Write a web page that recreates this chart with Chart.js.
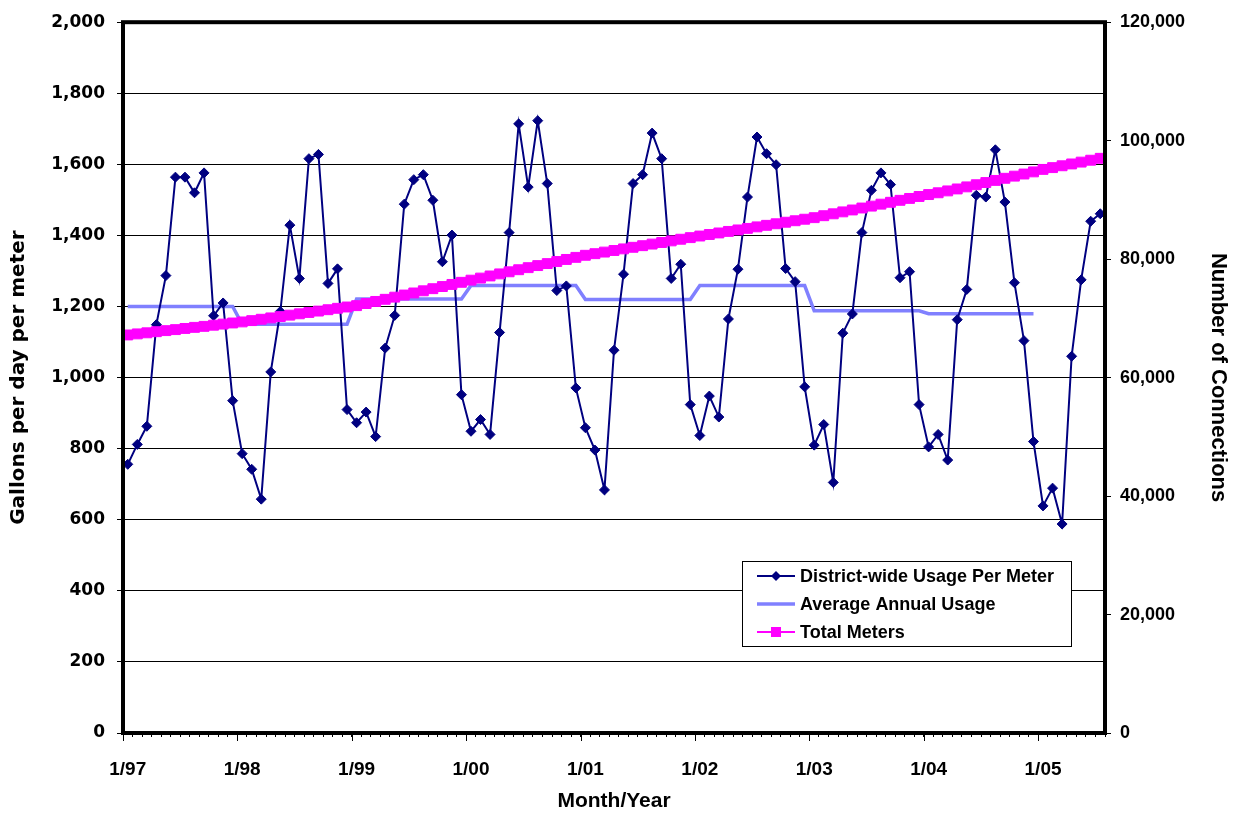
<!DOCTYPE html>
<html>
<head>
<meta charset="utf-8">
<title>District-wide Water Usage Per Meter</title>
<script src="https://cdn.jsdelivr.net/npm/chart.js@4.4.1/dist/chart.umd.min.js"></script>
<style>
  html, body { margin: 0; padding: 0; background: #ffffff; }
  #wrap { position: relative; width: 1233px; height: 815px; }
</style>
</head>
<body>
<div id="wrap"><canvas id="chart" width="1233" height="815"></canvas></div>
<script>
// Monthly usage, gallons per day per meter (Jan 1997 – Jul 2005)
const usage1997 = [756, 812, 863, 1149, 1287, 1564, 1564, 1520, 1576, 1174, 1210, 935];
const usage1998 = [786, 742, 658, 1016, 1186, 1429, 1279, 1616, 1628, 1265, 1306, 910];
const usage1999 = [873, 903, 834, 1083, 1175, 1488, 1557, 1571, 1499, 1326, 1401, 952];
const usage2000 = [849, 882, 840, 1127, 1408, 1714, 1536, 1723, 1546, 1245, 1258, 971];
const usage2001 = [859, 796, 684, 1077, 1291, 1546, 1571, 1688, 1616, 1279, 1319, 924];
const usage2002 = [837, 948, 889, 1165, 1305, 1508, 1677, 1630, 1599, 1307, 1270, 974];
const usage2003 = [810, 868, 705, 1125, 1179, 1408, 1527, 1576, 1543, 1281, 1298, 924];
const usage2004 = [805, 840, 768, 1163, 1248, 1513, 1508, 1641, 1494, 1267, 1104, 820];
const usage2005 = [639, 689, 588, 1060, 1275, 1440, 1461];

// Average annual usage for each full year 1997–2004
const annualAverage = [1200, 1150, 1221, 1259, 1220, 1259, 1188, 1180];

// Total meters in service (number of connections), monthly
const meters1997 = [67200, 67380, 67560, 67750, 67930, 68100, 68300, 68480, 68650, 68850, 69030, 69220];
const meters1998 = [69400, 69620, 69850, 70080, 70300, 70540, 70770, 71000, 71230, 71460, 71700, 71920];
const meters1999 = [72150, 72500, 72860, 73220, 73580, 73940, 74290, 74650, 75010, 75370, 75730, 76090];
const meters2000 = [76450, 76800, 77160, 77510, 77860, 78210, 78560, 78910, 79250, 79600, 79950, 80300];
const meters2001 = [80650, 80920, 81190, 81460, 81730, 82000, 82270, 82540, 82810, 83080, 83360, 83630];
const meters2002 = [83900, 84160, 84420, 84680, 84930, 85190, 85450, 85710, 85970, 86230, 86480, 86740];
const meters2003 = [87000, 87330, 87650, 87980, 88300, 88630, 88950, 89280, 89600, 89930, 90250, 90580];
const meters2004 = [90900, 91200, 91520, 91850, 92200, 92560, 92930, 93290, 93650, 94010, 94370, 94730];
const meters2005 = [95150, 95450, 95760, 96070, 96380, 96700, 97020];

const firstYear = 1997;

const usagePerMeter = [].concat(usage1997, usage1998, usage1999, usage2000, usage2001,
                                usage2002, usage2003, usage2004, usage2005);
const totalMeters = [].concat(meters1997, meters1998, meters1999, meters2000, meters2001,
                              meters2002, meters2003, meters2004, meters2005);

// Category labels "m/yy"
const months = usagePerMeter.map((_, i) => {
  const m = (i % 12) + 1;
  const y = (firstYear + Math.floor(i / 12)) % 100;
  return m + '/' + String(y).padStart(2, '0');
});

// The annual average is held flat over each year's months
const averageSeries = usagePerMeter.map((_, i) => {
  const yr = Math.floor(i / 12);
  return yr < annualAverage.length ? annualAverage[yr] : null;
});

const FONT = "'Liberation Sans', Arial, Helvetica, sans-serif";
const WIDE = "'DejaVu Sans', 'Liberation Sans', sans-serif";
const fmt = v => Number(v).toLocaleString('en-US');

// Black frame round the plot area, year tick marks and the boxed legend
const framePlugin = {
  id: 'frame',
  afterDatasetsDraw(chart) {
    const { ctx, chartArea: a } = chart;
    ctx.save();
    ctx.strokeStyle = '#000';
    ctx.lineWidth = 4;
    ctx.strokeRect(a.left, a.top, a.right - a.left, a.bottom - a.top);
    ctx.restore();
  },
  afterDraw(chart) {
    const { ctx, chartArea: a } = chart;
    const xs = chart.scales.x;
    const step = xs.getPixelForValue(1) - xs.getPixelForValue(0);
    ctx.save();
    ctx.strokeStyle = '#000';
    ctx.lineWidth = 1;
    for (let i = 0; i <= months.length; i += 12) {
      const px = Math.round(xs.getPixelForValue(0) + (i - 0.5) * step) + 0.5;
      ctx.beginPath();
      ctx.moveTo(px, a.bottom);
      ctx.lineTo(px, a.bottom + 8);
      ctx.stroke();
    }
    ctx.restore();

    // legend
    const box = { x: 742, y: 561, w: 329, h: 85 };
    ctx.save();
    ctx.fillStyle = '#fff';
    ctx.fillRect(box.x, box.y, box.w, box.h);
    ctx.strokeStyle = '#000';
    ctx.lineWidth = 1;
    ctx.strokeRect(box.x + 0.5, box.y + 0.5, box.w, box.h);
    ctx.font = 'bold 18px ' + FONT;
    ctx.textBaseline = 'middle';
    ctx.textAlign = 'left';
    const rows = [576, 604, 632];
    chart.data.datasets.forEach((ds, k) => {
      const y = rows[k];
      const x0 = box.x + 15, x1 = box.x + 53;
      ctx.strokeStyle = ds.borderColor;
      ctx.lineWidth = k === 1 ? ds.borderWidth : 2;
      ctx.beginPath();
      ctx.moveTo(x0, y);
      ctx.lineTo(x1, y);
      ctx.stroke();
      const cx = (x0 + x1) / 2;
      ctx.fillStyle = ds.borderColor;
      if (ds.pointStyle === 'rectRot') {
        ctx.beginPath();
        ctx.moveTo(cx - 5, y); ctx.lineTo(cx, y - 5); ctx.lineTo(cx + 5, y); ctx.lineTo(cx, y + 5);
        ctx.closePath(); ctx.fill();
      } else if (ds.pointStyle === 'rect') {
        ctx.fillRect(cx - 5, y - 5, 10, 10);
      }
      ctx.fillStyle = '#000';
      ctx.fillText(ds.label, box.x + 58, y + 1);
    });
    ctx.restore();
  }
};

new Chart(document.getElementById('chart'), {
  type: 'line',
  data: {
    labels: months,
    datasets: [
      {
        label: 'District-wide Usage Per Meter',
        data: usagePerMeter,
        yAxisID: 'y',
        borderColor: '#000080',
        backgroundColor: '#000080',
        borderWidth: 2,
        pointStyle: 'rectRot',
        pointRadius: 5,
        pointBorderWidth: 1,
        tension: 0,
        order: 1
      },
      {
        label: 'Average Annual Usage',
        data: averageSeries,
        yAxisID: 'y',
        borderColor: '#8080FF',
        backgroundColor: '#8080FF',
        borderWidth: 3.5,
        pointRadius: 0,
        tension: 0,
        spanGaps: false,
        order: 2
      },
      {
        label: 'Total Meters',
        data: totalMeters,
        yAxisID: 'y1',
        borderColor: '#FF00FF',
        backgroundColor: '#FF00FF',
        borderWidth: 3,
        pointStyle: 'rect',
        pointRadius: 7,
        pointBorderWidth: 1,
        tension: 0,
        order: 0
      }
    ]
  },
  options: {
    responsive: false,
    animation: false,
    devicePixelRatio: 1,
    layout: { padding: { top: 20, left: 0, right: 0, bottom: 0 } },
    plugins: {
      legend: { display: false },
      tooltip: { enabled: false }
    },
    scales: {
      x: {
        type: 'category',
        offset: true,
        grid: { display: true, drawOnChartArea: false, drawTicks: true, tickLength: 4, color: '#000', offset: true },
        border: { display: false },
        ticks: {
          autoSkip: false, maxRotation: 0, minRotation: 0, padding: 21, color: '#000',
          font: { family: FONT, size: 19, weight: 'bold' },
          callback: (v, i) => (i % 12 === 0 ? months[i] : '')
        },
        title: { display: true, text: 'Month/Year', color: '#000', font: { family: FONT, size: 21, weight: 'bold' }, padding: { top: 0, bottom: 1 } },
        afterFit: s => { s.height = 82; }
      },
      y: {
        position: 'left',
        min: 0, max: 2000,
        grid: { color: '#000', lineWidth: 1, tickLength: 6 },
        border: { display: false },
        ticks: { stepSize: 200, padding: 12, color: '#000', font: { family: WIDE, size: 17, weight: 'bold' }, callback: v => fmt(v) },
        title: { display: true, text: 'Gallons per day per meter', color: '#000', font: { family: WIDE, size: 20, weight: 'bold' }, padding: { top: 7, bottom: 0 } },
        afterFit: s => { s.width = 123; }
      },
      y1: {
        position: 'right',
        min: 0, max: 120000,
        grid: { drawOnChartArea: false, color: '#000', tickLength: 6 },
        border: { display: false },
        ticks: { stepSize: 20000, padding: 9, color: '#000', font: { family: FONT, size: 18, weight: 'bold' }, callback: v => fmt(v) },
        title: { display: true, text: 'Number of Connections', color: '#000', font: { family: FONT, size: 22, weight: 'bold' }, padding: { top: 2, bottom: 0 } },
        afterFit: s => { s.width = 128; }
      }
    }
  },
  plugins: [framePlugin]
});
</script>
</body>
</html>
